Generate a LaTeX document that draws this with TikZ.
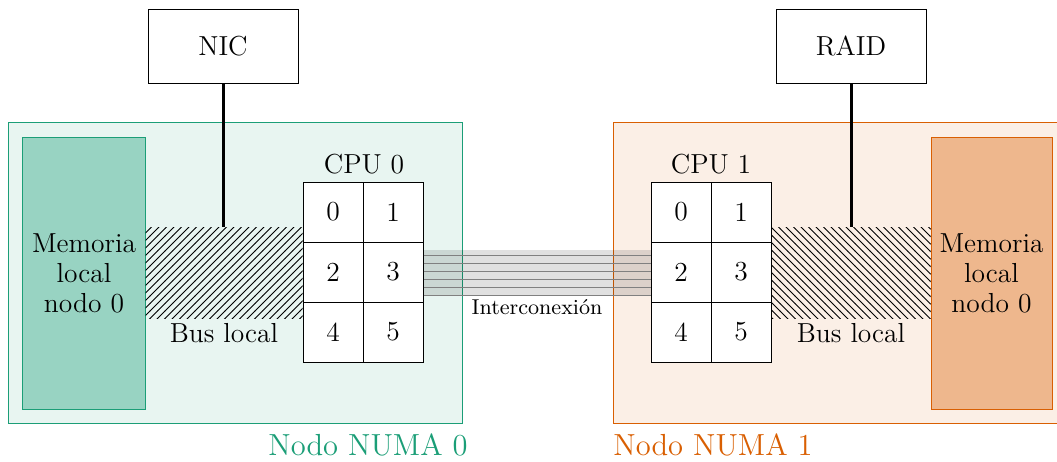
\documentclass[tikz,border=0pt]{standalone}
\usetikzlibrary{patterns}
\definecolor{teal0}{HTML}{1B9E77}
\definecolor{orng1}{HTML}{D95F02}
\tikzset{
  every node/.style={font=\fontsize{11}{12}\selectfont},
  outerbox/.style={draw=#1, fill=#1!10},
  membox/.style={draw=#1, fill=#1!45, align=center, inner sep=0pt},
  devbox/.style={draw, fill=white, minimum width=60pt, minimum height=29.6pt, inner sep=0pt},
  cell/.style={draw, fill=white, minimum width=24pt, minimum height=24pt, inner sep=0pt},
  link/.style={line width=1.2pt},
  numalabel/.style={font=\fontsize{12.2}{14}\selectfont},
}
\begin{document}
\begin{tikzpicture}[x=0.4pt, y=-0.4pt]
\useasboundingbox (0,0) rectangle (1057,461);
% outer boxes
\path[outerbox=teal0] (8,122) rectangle (462,423);
\path[outerbox=orng1] (613,122) rectangle (1065,423);
% memories
\node[membox=teal0, minimum width=48.8pt, minimum height=108.8pt] (mem0) at (84,273) {Memoria\\local\\nodo 0};
\node[membox=orng1, minimum width=48.4pt, minimum height=108.8pt] (mem1) at (991.5,273) {Memoria\\local\\nodo 0};
% CPUs
\foreach \r/\a/\b in {0/0/1,1/2/3,2/4/5}{
  \node[cell] (c0\a) at (333,212+60*\r) {\a};
  \node[cell] (c0\b) at (393,212+60*\r) {\b};
}
\foreach \r/\a/\b in {0/0/1,1/2/3,2/4/5}{
  \node[cell] (c1\a) at (681,212+60*\r) {\a};
  \node[cell] (c1\b) at (741,212+60*\r) {\b};
}
\node (cpu0) at (364,164) {CPU 0};
\node (cpu1) at (711,164) {CPU 1};
% buses
\coordinate (b0a) at (mem0.east |- 0,227);
\coordinate (b0b) at (c02.west |- 0,318);
\fill[pattern=north east lines] (b0a) rectangle (b0b);
\coordinate (b1a) at (c13.east |- 0,227);
\coordinate (b1b) at (mem1.west |- 0,318);
\fill[pattern=north west lines] (b1a) rectangle (b1b);
\node (bus0) at (224,333) {Bus local};
\node (bus1) at (851,333) {Bus local};
% devices
\node[devbox] (nic) at (223,46) {NIC};
\node[devbox] (raid) at (851,46) {RAID};
\coordinate (nicb) at (223,227);
\coordinate (raidb) at (851,227);
\draw[link] (nic.south) -- (nicb);
\draw[link] (raid.south) -- (raidb);
% interconnect
\coordinate (ia) at (c03.east |- 0,250);
\coordinate (ib) at (c12.west |- 0,296);
\fill[black, opacity=0.12] (ia) rectangle (ib);
\foreach \y in {255,263,271,279,287,295}{
  \draw[gray] (c03.east |- 0,\y) -- (c12.west |- 0,\y);
}
\node[font=\fontsize{8.6}{10}\selectfont] (ic) at (537,307) {Interconexión};
% labels
\node[numalabel, text=teal0] (n0) at (368,445) {Nodo NUMA 0};
\node[numalabel, text=orng1] (n1) at (713,445) {Nodo NUMA 1};
\end{tikzpicture}
\end{document}
